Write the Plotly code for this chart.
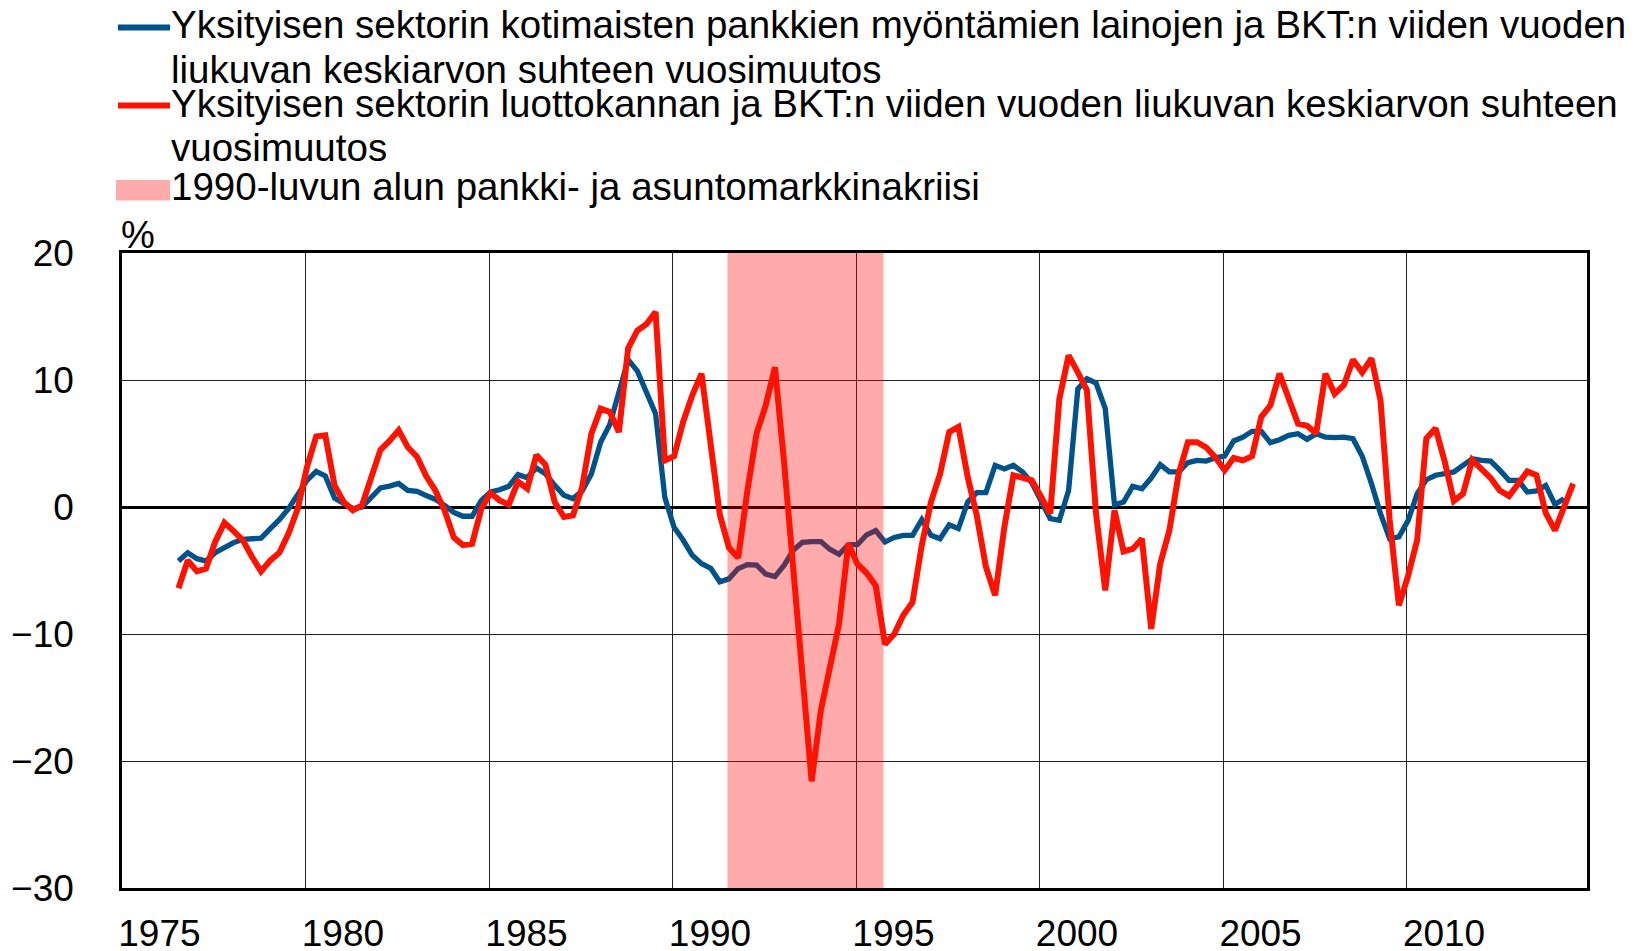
import pandas as pd
import plotly.graph_objects as go

# Quarterly observations, starting from the third quarter of 1976.
start_quarter = "1976-07-01"

# Annual change in the ratio of domestic bank loans to the private sector
# to the five-year moving average of GDP (%).
bank_loans = [
    -4.25, -3.6, -4.07, -4.25, -3.6, -3.2, -2.8, -2.55, -2.5, -2.45,
    -1.7, -1.0, -0.13, 0.9, 2.1, 2.8, 2.45, 0.7, 0.26, -0.13,
    0.0, 0.8, 1.5, 1.65, 1.85, 1.3, 1.23, 0.9, 0.6, 0.13,
    -0.42, -0.73, -0.73, 0.52, 1.18, 1.36, 1.63, 2.55, 2.31, 3.07,
    2.62, 1.7, 0.92, 0.66, 1.26, 2.6, 5.1, 6.5, 9.0, 11.6,
    10.7, 8.9, 7.35, 0.75, -1.6, -2.6, -3.8, -4.46, -4.83, -5.89,
    -5.66, -4.85, -4.54, -4.58, -5.28, -5.48, -4.58, -3.4, -2.78, -2.72,
    -2.72, -3.34, -3.72, -2.98, -2.95, -2.19, -1.85, -2.76, -2.4, -2.23,
    -2.23, -1.0, -2.23, -2.5, -1.4, -1.7, 0.4, 1.13, 1.13, 3.28,
    3.0, 3.28, 2.76, 1.9, 0.5, -0.92, -1.05, 1.3, 9.3, 10.1,
    9.76, 7.74, 0.18, 0.39, 1.63, 1.44, 2.28, 3.33, 2.76, 2.76,
    3.5, 3.67, 3.62, 3.88, 4.0, 5.2, 5.5, 5.96, 5.96, 5.07,
    5.3, 5.64, 5.77, 5.33, 5.77, 5.5, 5.46, 5.5, 5.38, 4.0,
    1.84, -0.52, -2.5, -2.36, -1.05, 1.05, 2.15, 2.5, 2.62, 2.76,
    3.28, 3.8, 3.67, 3.62, 2.9, 2.1, 2.1, 1.18, 1.26, 1.7,
    0.2, 0.66,
]

# Annual change in the ratio of the private sector credit stock
# to the five-year moving average of GDP (%).
credit_stock = [
    -6.4, -4.2, -5.07, -4.85, -2.75, -1.23, -1.9, -2.6, -3.9, -5.07,
    -4.2, -3.6, -2.1, -0.13, 3.15, 5.56, 5.65, 1.7, 0.4, -0.26,
    0.13, 2.36, 4.5, 5.2, 6.04, 4.7, 3.94, 2.44, 1.3, -0.26,
    -2.4, -3.0, -2.9, -0.13, 1.1, 0.52, 0.18, 2.0, 1.44, 4.1,
    3.33, 0.39, -0.79, -0.66, 1.57, 5.77, 7.74, 7.48, 5.9, 12.5,
    13.9, 14.4, 15.35, 3.67, 4.0, 6.7, 8.8, 10.5, 4.8, -0.6,
    -3.2, -4.0, 1.3, 5.8, 8.0, 11.0, 3.4, -4.6, -13.0, -21.6,
    -16.0, -12.6, -9.2, -2.9, -4.5, -5.2, -6.2, -10.8, -10.0, -8.5,
    -7.5, -3.0, 0.4, 2.6, 5.9, 6.3, 2.36, -0.66, -4.7, -6.96,
    -1.57, 2.5, 2.36, 2.1, 0.8, -0.52, 8.5, 11.94, 10.6, 9.2,
    -0.5, -6.56, -0.26, -3.5, -3.3, -2.5, -9.6, -4.46, -1.84, 2.6,
    5.1, 5.1, 4.7, 3.9, 2.9, 3.86, 3.67, 4.0, 7.1, 8.0,
    10.5, 8.5, 6.56, 6.4, 5.8, 10.5, 8.9, 9.6, 11.6, 10.6,
    11.7, 8.4, -1.0, -7.74, -5.4, -2.6, 5.4, 6.2, 3.54, 0.47,
    1.05, 3.7, 2.9, 2.28, 1.3, 0.87, 1.84, 2.8, 2.5, -0.47,
    -1.84, 0.0, 1.84,
]

# Early 1990s banking and housing market crisis.
crisis_period = ["1991-07-01", "1995-10-01"]

# Axis settings.
x_range = ["1975-01-01", "2014-12-01"]
y_range = [-30, 20]

# Legend texts, one list per entry (the original wraps them on two lines).
legend_lines = [
    ["Yksityisen sektorin kotimaisten pankkien myöntämien lainojen ja BKT:n viiden vuoden",
     "liukuvan keskiarvon suhteen vuosimuutos"],
    ["Yksityisen sektorin luottokannan ja BKT:n viiden vuoden liukuvan keskiarvon suhteen",
     "vuosimuutos"],
    ["1990-luvun alun pankki- ja asuntomarkkinakriisi"],
]

blue = "#00528a"
red = "#ff1200"
shade = "rgba(255, 0, 0, 0.33)"
font_family = "Arial, Liberation Sans, sans-serif"

# The page body has an 8 px margin, so the figure is made that much smaller
# and every page position below is moved by it.
page_offset = 8
width, height = 1637 - page_offset, 951 - page_offset
# Plot area edges, in page pixels.
left, right, top, bottom = 122, 1587, 253, 888


def px_to_paper(x_px, y_px):
    # Converts a page pixel position to paper coordinates.
    return (
        (x_px - left) / (right - left),
        (bottom - y_px) / (bottom - top),
    )


# Quarter dates, plotted in the middle of the first month of the quarter.
dates_credit = pd.date_range(start_quarter, periods=len(credit_stock), freq="QS")
dates_credit = dates_credit + pd.Timedelta(days=15)
dates_loans = dates_credit[: len(bank_loans)]

fig = go.Figure()

# Blue line first, so the crisis shading lies over it but under the red line.
fig.add_trace(
    go.Scatter(
        x=dates_loans,
        y=bank_loans,
        mode="lines",
        name=" ".join(legend_lines[0]),
        line=dict(color=blue, width=5.3),
    )
)
fig.add_trace(
    go.Scatter(
        x=[crisis_period[0], crisis_period[1], crisis_period[1], crisis_period[0]],
        y=[y_range[0], y_range[0], y_range[1], y_range[1]],
        mode="none",
        fill="toself",
        fillcolor=shade,
        name=legend_lines[2][0],
        hoverinfo="skip",
    )
)
fig.add_trace(
    go.Scatter(
        x=dates_credit,
        y=credit_stock,
        mode="lines",
        name=" ".join(legend_lines[1]),
        line=dict(color=red, width=6),
    )
)

# Legend drawn by hand, to keep the tight line spacing of the original.
legend_font = dict(family=font_family, size=38.5, color="black")
text_x = 172 - 3  # annotation padding
# Baselines of the legend text lines, in page pixels from the top.
baselines = [[38, 82.5], [116.5, 161], [199.5]]
symbols = [
    dict(type="line", x0=118, x1=170, y=27.5, color=blue),
    dict(type="line", x0=118, x1=170, y=105.5, color=red),
    dict(type="rect", x0=116, x1=170, y0=180, y1=200.5, color=shade),
]

annotations = []
for lines, line_baselines in zip(legend_lines, baselines):
    for text, base in zip(lines, line_baselines):
        ax, ay = px_to_paper(text_x, base - 0.35 * legend_font["size"])
        annotations.append(
            dict(
                text=text,
                xref="paper",
                yref="paper",
                x=ax,
                y=ay,
                xanchor="left",
                yanchor="middle",
                showarrow=False,
                font=legend_font,
            )
        )

shapes = []
for s in symbols:
    if s["type"] == "line":
        x0, y0 = px_to_paper(s["x0"], s["y"])
        x1, _ = px_to_paper(s["x1"], s["y"])
        shapes.append(
            dict(
                type="line",
                xref="paper",
                yref="paper",
                x0=x0,
                x1=x1,
                y0=y0,
                y1=y0,
                line=dict(color=s["color"], width=6),
            )
        )
    else:
        x0, y0 = px_to_paper(s["x0"], s["y0"])
        x1, y1 = px_to_paper(s["x1"], s["y1"])
        shapes.append(
            dict(
                type="rect",
                xref="paper",
                yref="paper",
                x0=x0,
                x1=x1,
                y0=y0,
                y1=y1,
                fillcolor=s["color"],
                line=dict(width=0),
            )
        )

# Unit label above the y axis.
ux, uy = px_to_paper(122 - 3, 248 - 0.35 * 38)
annotations.append(
    dict(
        text="%",
        xref="paper",
        yref="paper",
        x=ux,
        y=uy,
        xanchor="left",
        yanchor="middle",
        showarrow=False,
        font=dict(family=font_family, size=38, color="black"),
    )
)

fig.update_xaxes(
    type="date",
    range=x_range,
    tick0="1975-01-01",
    dtick="M60",
    tickformat="%Y",
    ticklabelposition="outside right",
    ticklabelshift=-5,
    ticklabelstandoff=11,
    showgrid=True,
    gridcolor="#222222",
    gridwidth=1,
    showline=True,
    linecolor="black",
    linewidth=2.5,
    mirror=True,
    ticks="",
    tickfont=dict(size=37, color="black"),
)
fig.update_yaxes(
    range=y_range,
    dtick=10,
    showgrid=True,
    gridcolor="#222222",
    gridwidth=1,
    zeroline=True,
    zerolinecolor="black",
    zerolinewidth=2.5,
    showline=True,
    linecolor="black",
    linewidth=2.5,
    mirror=True,
    ticks="",
    ticklabelstandoff=38,
    tickfont=dict(size=37, color="black"),
)

fig.update_layout(
    width=width,
    height=height,
    margin=dict(
        l=left - page_offset,
        r=1637 - right,
        t=top - page_offset,
        b=951 - bottom,
        autoexpand=False,
    ),
    plot_bgcolor="white",
    paper_bgcolor="white",
    font=dict(family=font_family, color="black"),
    showlegend=False,
    annotations=annotations,
    shapes=shapes,
)

fig.write_html("out.html")
